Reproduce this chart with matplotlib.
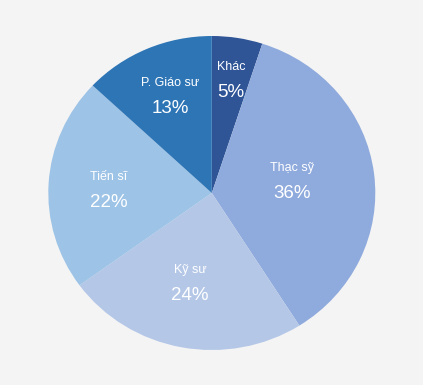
import numpy as np
import matplotlib
matplotlib.use('Agg')
import matplotlib.pyplot as plt

plt.rcParams['font.family'] = ['Liberation Sans', 'DejaVu Sans']

labels = ['Khác', 'Thạc sỹ', 'Kỹ sư', 'Tiến sĩ', 'P. Giáo sư']
values = [5, 36, 24, 22, 13]
colors = ['#2f5597', '#8faadc', '#b4c7e7', '#9dc3e6', '#2e75b6']
# where each label sits: fraction of radius and a small angle nudge (deg)
label_r = [0.757, 0.50, 0.56, 0.63, 0.694]
label_da = [0, 5, -3, -0.7, -2]

W, H = 423, 385
fig = plt.figure(figsize=(W / 100, H / 100), dpi=100)
fig.patch.set_facecolor('#f4f4f4')

# pie box in pixels (slightly wider than tall, like the original)
x0, x1, y0, y1 = 48.3, 375.3, 36, 350
ax = fig.add_axes([x0 / W, 1 - y1 / H, (x1 - x0) / W, (y1 - y0) / H])
ax.set_facecolor('#f4f4f4')

wedges, _ = ax.pie(values, colors=colors, startangle=90, counterclock=False,
                   radius=1, wedgeprops=dict(linewidth=0))
ax.set_aspect('auto')
ax.set_xlim(-1, 1)
ax.set_ylim(-1, 1)
ax.axis('off')

total = sum(values)
cum = 0
for lab, v, r, da in zip(labels, values, label_r, label_da):
    mid = np.radians(90 - (cum + v / 2) / total * 360 + da)
    cum += v
    x, y = r * np.cos(mid), r * np.sin(mid)
    ax.annotate(lab, (x, y), xytext=(0, 6), textcoords='offset points',
                ha='center', va='center', fontsize=9, color='white')
    ax.annotate(f'{v}%', (x, y), xytext=(0, -12), textcoords='offset points',
                ha='center', va='center', fontsize=13.5, color='white')

fig.savefig('out.png', dpi=100, facecolor=fig.get_facecolor())
